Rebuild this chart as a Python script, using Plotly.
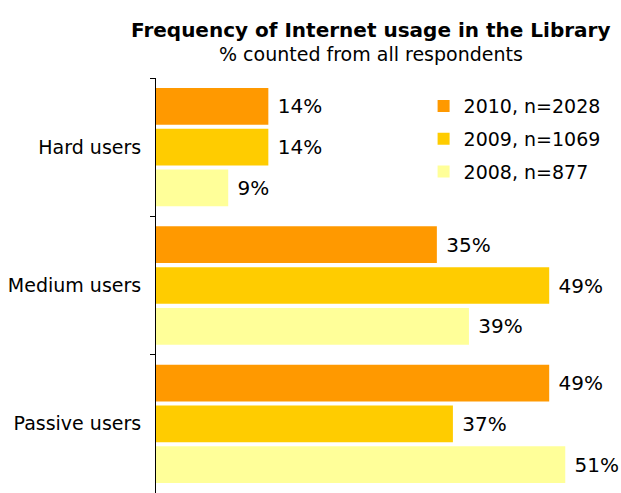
import plotly.graph_objects as go

# Respondent groups (top to bottom) and the share of each survey year
categories = ["Hard users", "Medium users", "Passive users"]
series_names = ["2010, n=2028", "2009, n=1069", "2008, n=877"]
values_2010 = [14, 35, 49]
values_2009 = [14, 49, 37]
values_2008 = [9, 39, 51]
series_values = [values_2010, values_2009, values_2008]
series_colors = ["#FF9900", "#FFCC00", "#FFFF99"]

FONT = "DejaVu Sans"

fig = go.Figure()
for name, vals, color in zip(series_names, series_values, series_colors):
    fig.add_trace(go.Bar(
        y=categories,
        x=vals,
        name=name,
        orientation="h",
        marker=dict(color=color, line=dict(width=0)),
        texttemplate="\u00a0%{x}%",
        textposition="outside",
        textfont=dict(family=FONT, size=20, color="#000000"),
        constraintext="none",
        cliponaxis=False,
        legendgroup=name,
        hoverinfo="skip",
    ))

fig.update_layout(
    width=621,
    height=493,
    margin=dict(l=156, r=6, t=78, b=0),
    paper_bgcolor="white",
    plot_bgcolor="white",
    barmode="group",
    bargap=0.115,
    bargroupgap=0.1,
    font=dict(family=FONT, size=19, color="#000000"),
    showlegend=True,
    legend=dict(
        x=0.583, y=0.978,
        xanchor="left", yanchor="top",
        bgcolor="rgba(0,0,0,0)",
        font=dict(family=FONT, size=19, color="#000000"),
        tracegroupgap=5,
        traceorder="grouped",
    ),
    xaxis=dict(
        range=[0, 57.2],
        visible=False,
        showgrid=False,
        zeroline=False,
    ),
    yaxis=dict(
        autorange="reversed",
        showline=True,
        linecolor="#000000",
        linewidth=1,
        ticks="outside",
        ticklen=5,
        tickcolor="#000000",
        tickson="boundaries",
        showgrid=False,
        ticklabelstandoff=10,
        tickfont=dict(family=FONT, size=19, color="#000000"),
    ),
    annotations=[
        dict(
            text="<b>Frequency of Internet usage in the Library</b>",
            xref="paper", yref="paper",
            x=0.468, y=1.116,
            xanchor="center", yanchor="middle",
            showarrow=False,
            font=dict(family=FONT, size=20, color="#000000"),
        ),
        dict(
            text="% counted from all respondents",
            xref="paper", yref="paper",
            x=0.468, y=1.058,
            xanchor="center", yanchor="middle",
            showarrow=False,
            font=dict(family=FONT, size=19, color="#000000"),
        ),
    ],
)

fig.write_html("out.html")
